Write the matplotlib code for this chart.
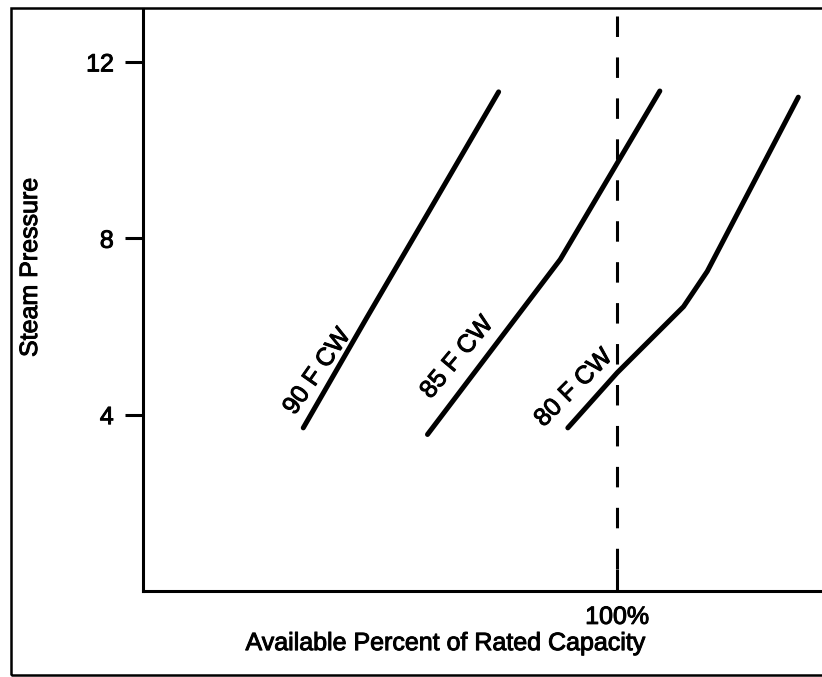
import matplotlib
matplotlib.use("Agg")
import matplotlib.pyplot as plt
from matplotlib.patches import Rectangle
import matplotlib.patheffects as pe

plt.rcParams['font.family'] = ['Liberation Sans', 'DejaVu Sans']

# Data (x: available percent of rated capacity, y: steam pressure)
x_90 = [66.9, 73.6, 80.1, 87.5]
y_90 = [3.70, 6.20, 8.59, 11.32]
x_85 = [80.0, 94.0, 104.5]
y_85 = [3.55, 7.52, 11.34]
x_80 = [94.8, 100.0, 107.0, 109.5, 119.1]
y_80 = [3.70, 4.95, 6.45, 7.25, 11.20]
curve_labels = ["90 F CW", "85 F CW", "80 F CW"]
label_pos = [(68.35, 4.98, 55), (83.1, 5.30, 50), (95.4, 4.61, 45)]
y_ticks = [4, 8, 12]
x_ticks = [100]
x_tick_labels = ["100%"]

W, H = 822, 677
fig = plt.figure(figsize=(W / 100, H / 100), dpi=100)

def fx(px):
    return px / W

def fy(py):
    return 1 - py / H

FS = 18
thick = [pe.withStroke(linewidth=0.7, foreground='black')]

ax = fig.add_axes([fx(143), fy(591), fx(822) - fx(143), fy(9) - fy(591)])
ax.set_xlim(50, 121.6)
ax.set_ylim(0, 13.2)

for xs, ys in [(x_90, y_90), (x_85, y_85), (x_80, y_80)]:
    ax.plot(xs, ys, color='black', lw=3.6, solid_capstyle='round',
            solid_joinstyle='round')

ax.plot([100, 100], [13.05, 0], color='black', lw=2.2,
        linestyle=(0, (6.7, 6.7)))

for txt, (lx, ly, rot) in zip(curve_labels, label_pos):
    ax.text(lx, ly, txt, rotation=rot, rotation_mode='anchor',
            ha='center', va='center', fontsize=FS, color='black',
            path_effects=thick)

ax.spines['top'].set_visible(False)
ax.spines['right'].set_visible(False)
ax.spines['left'].set_linewidth(2.2)
ax.spines['bottom'].set_linewidth(2.2)

ax.set_yticks(y_ticks)
ax.set_yticklabels([str(t) for t in y_ticks], fontsize=FS)
ax.tick_params(axis='y', direction='out', length=13, width=2.2, pad=8)
ax.set_xticks(x_ticks)
ax.set_xticklabels(x_tick_labels, fontsize=FS)
ax.tick_params(axis='x', direction='in', length=16, width=2.2, pad=10)
for lab in ax.get_xticklabels() + ax.get_yticklabels():
    lab.set_path_effects(thick)

ax.set_xlabel("Available Percent of Rated Capacity", fontsize=FS)
ax.xaxis.set_label_coords((445 - 143) / (822 - 143), -0.0895)
ax.xaxis.label.set_va('center')
ax.xaxis.label.set_path_effects(thick)
ax.set_ylabel("Steam Pressure", fontsize=FS)
ax.yaxis.set_label_coords((30 - 143) / (822 - 143), 0.556)
ax.yaxis.label.set_va('center')
ax.yaxis.label.set_path_effects(thick)

frame = Rectangle((fx(11), fy(675)), 1.02 - fx(11), fy(8) - fy(675),
                  transform=fig.transFigure, fill=False, lw=1.8,
                  edgecolor='black')
fig.add_artist(frame)

fig.savefig("out.png", dpi=100, facecolor='white')
